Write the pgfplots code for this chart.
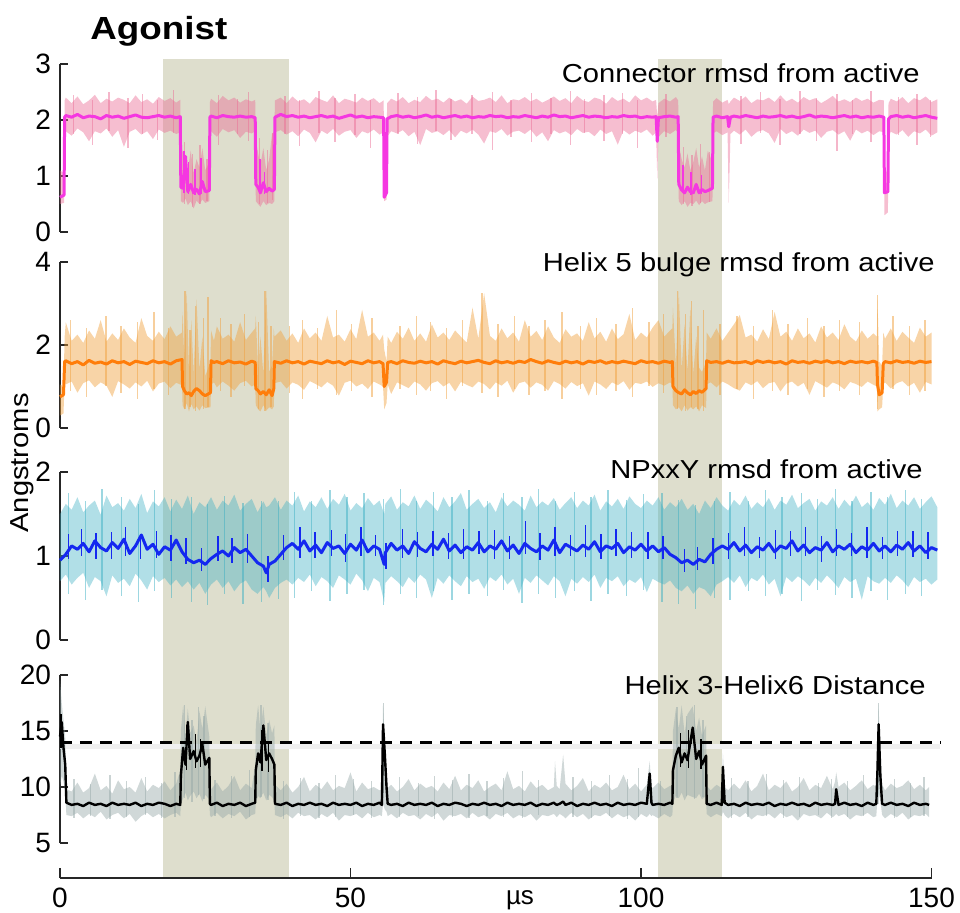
\documentclass[border=0pt]{standalone}
\usepackage{pgfplots}
\pgfplotsset{compat=1.18}
\usepackage{pgfplotstable}
\usepackage{fontspec}
\setmainfont{Liberation Sans}
\newfontfamily\lblfont[FakeStretch=1.12]{Liberation Sans}
\newfontfamily\ttlfont[FakeStretch=1.15]{Liberation Sans}

\definecolor{shade}{RGB}{222,222,205}
\definecolor{pAdark}{RGB}{245,55,225}
\definecolor{pAlight}{RGB}{235,110,150}
\definecolor{pBdark}{RGB}{255,125,10}
\definecolor{pBlight}{RGB}{240,160,60}
\definecolor{pCdark}{RGB}{20,40,240}
\definecolor{pClight}{RGB}{60,175,195}
\definecolor{pDdark}{RGB}{0,0,0}
\definecolor{pDlight}{RGB}{150,168,168}

\pgfplotstableread{
x lo hi y
0 0.50 1.10 0.62
0.7 0.52 1.05 0.66
0.8 1.75 2.35 2.05
1 1.80 2.40 2.08
2 1.72 2.30 2.05
3 1.85 2.42 2.10
4 1.78 2.28 2.04
5 1.62 2.35 2.07
6 1.80 2.45 2.06
7 1.76 2.30 2.02
8 1.85 2.38 2.08
9 1.70 2.33 2.05
10 1.82 2.40 2.07
11 1.52 2.36 2.03
12 1.79 2.30 2.06
13 1.84 2.44 2.09
14 1.74 2.32 2.05
15 1.80 2.37 2.04
16 1.66 2.29 2.06
17 1.83 2.41 2.08
18 1.77 2.34 2.05
19 1.81 2.39 2.07
20 1.75 2.31 2.04
20.7 1.78 2.36 2.06
20.8 0.55 1.55 0.80
21.2 0.52 1.40 0.78
21.6 0.60 1.30 1.35
22 0.48 1.10 0.72
22.5 0.55 1.45 0.85
23 0.42 1.05 0.70
23.5 0.56 1.30 0.76
24 0.50 1.15 0.68
24.5 0.58 1.50 0.90
25 0.52 1.10 0.72
25.7 0.55 1.25 0.74
25.8 1.75 2.32 2.05
26 1.80 2.38 2.07
27 1.70 2.30 2.04
28 1.84 2.43 2.08
29 1.78 2.35 2.06
30 1.82 2.40 2.05
31 1.68 2.31 2.07
32 1.79 2.37 2.05
33 1.76 2.33 2.06
33.6 1.80 2.36 2.04
33.7 0.55 1.65 0.85
34.1 0.50 1.40 0.80
34.5 0.45 1.20 0.70
35 0.55 1.50 0.88
35.5 0.48 1.10 0.72
36 0.52 1.30 0.78
36.5 0.50 1.75 0.73
36.9 0.55 1.80 0.76
37 1.78 2.35 2.05
38 1.82 2.40 2.10
39 1.74 2.30 2.06
40 1.80 2.42 2.08
41 1.71 2.33 2.05
42 1.83 2.37 2.07
43 1.77 2.29 2.04
44 1.60 2.41 2.06
45 1.81 2.36 2.08
46 1.75 2.32 2.05
47 1.84 2.44 2.07
48 1.72 2.30 2.03
49 1.79 2.38 2.06
50 1.82 2.35 2.09
51 1.68 2.31 2.05
52 1.80 2.40 2.07
53 1.76 2.34 2.04
54 1.83 2.39 2.06
55 1.74 2.30 2.05
55.7 1.78 2.35 2.04
55.8 0.55 1.50 0.62
56.2 0.58 1.40 0.70
56.3 1.70 2.30 2.02
57 1.80 2.38 2.06
58 1.76 2.33 2.08
59 1.82 2.41 2.05
60 1.71 2.30 2.07
61 1.79 2.36 2.04
62 1.55 2.32 2.06
63 1.84 2.43 2.09
64 1.77 2.35 2.05
65 1.80 2.38 2.07
66 1.73 2.31 2.04
67 1.82 2.40 2.06
68 1.69 2.33 2.08
69 1.81 2.37 2.05
70 1.76 2.29 2.07
71 1.83 2.42 2.04
72 1.74 2.34 2.06
73 1.58 2.36 2.05
74 1.80 2.40 2.08
75 1.77 2.32 2.06
76 1.84 2.44 2.07
77 1.72 2.30 2.04
78 1.79 2.37 2.06
79 1.81 2.35 2.05
80 1.75 2.41 2.08
81 1.83 2.33 2.06
82 1.70 2.38 2.04
83 1.78 2.31 2.07
84 1.62 2.36 2.05
85 1.82 2.42 2.09
86 1.76 2.34 2.06
87 1.80 2.39 2.07
88 1.73 2.30 2.04
89 1.84 2.43 2.06
90 1.77 2.35 2.08
91 1.79 2.32 2.05
92 1.71 2.40 2.07
93 1.83 2.37 2.06
94 1.75 2.29 2.04
95 1.80 2.41 2.06
96 1.56 2.34 2.05
97 1.82 2.38 2.08
98 1.74 2.31 2.06
99 1.81 2.44 2.07
100 1.77 2.35 2.04
101 1.83 2.40 2.06
102 1.72 2.33 2.05
102.6 1.78 2.36 2.06
102.8 0.95 2.05 1.62
103 1.70 2.30 2.04
104 1.80 2.38 2.06
105 1.75 2.33 2.07
106 1.82 2.41 2.05
106.4 1.77 2.35 2.06
106.5 0.55 1.55 0.85
107 0.48 1.30 0.75
107.5 0.55 1.15 0.70
108 0.45 1.40 0.80
108.5 0.52 1.10 0.72
109 0.50 1.25 0.70
109.5 0.56 1.50 0.85
110 0.48 1.15 0.70
110.5 0.55 1.35 0.76
111 0.50 1.10 0.72
111.5 0.53 1.45 0.74
112.3 0.55 1.25 0.78
112.4 1.76 2.33 2.05
113 1.80 2.39 2.07
114 1.73 2.31 2.04
114.9 1.78 2.36 2.06
115.1 0.52 2.28 1.88
115.4 1.75 2.33 2.05
116 1.81 2.40 2.07
117 1.74 2.34 2.05
118 1.83 2.42 2.08
119 1.70 2.30 2.06
120 1.79 2.37 2.04
121 1.82 2.35 2.07
122 1.76 2.40 2.05
123 1.59 2.32 2.06
124 1.84 2.44 2.08
125 1.75 2.33 2.05
126 1.80 2.38 2.07
127 1.72 2.31 2.04
128 1.83 2.41 2.06
129 1.77 2.35 2.09
130 1.81 2.39 2.05
131 1.68 2.30 2.07
132 1.79 2.36 2.06
133 1.82 2.43 2.04
134 1.74 2.33 2.06
135 1.80 2.37 2.08
136 1.63 2.32 2.05
137 1.83 2.40 2.07
138 1.76 2.34 2.04
139 1.81 2.38 2.06
140 1.73 2.31 2.05
141 1.80 2.36 2.07
141.8 1.78 2.35 2.05
141.9 0.30 1.20 0.70
142.5 0.35 1.00 0.72
142.6 1.70 2.30 2.02
143 1.79 2.38 2.06
144 1.74 2.33 2.08
145 1.82 2.41 2.05
146 1.70 2.30 2.07
147 1.80 2.39 2.04
148 1.76 2.35 2.06
149 1.83 2.42 2.08
150 1.72 2.32 2.05
151 1.78 2.37 2.03
}\pA

\pgfplotstableread{
x y ep em
2.3 2.05 0.40 0.30
5.6 2.05 0.30 0.50
8.4 2.05 0.45 0.25
11.7 2.05 0.35 0.55
14.2 2.05 0.42 0.30
16.8 2.05 0.30 0.40
19.5 2.05 0.48 0.28
27.3 2.05 0.40 0.50
30.6 2.05 0.33 0.30
32.4 2.05 0.45 0.42
38.7 2.05 0.38 0.30
41.2 2.05 0.30 0.52
44.6 2.05 0.46 0.28
47.3 2.05 0.35 0.45
50.8 2.05 0.42 0.32
53.4 2.05 0.30 0.55
58.2 2.05 0.44 0.30
61.5 2.05 0.36 0.48
64.7 2.05 0.48 0.25
67.3 2.05 0.32 0.40
70.9 2.05 0.40 0.30
74.4 2.05 0.45 0.58
77.6 2.05 0.30 0.35
81.2 2.05 0.43 0.45
84.5 2.05 0.35 0.30
87.9 2.05 0.47 0.50
90.3 2.05 0.32 0.28
93.6 2.05 0.40 0.42
96.8 2.05 0.44 0.30
99.4 2.05 0.30 0.55
104.3 2.05 0.42 0.35
117.2 2.05 0.38 0.48
120.6 2.05 0.45 0.28
123.9 2.05 0.32 0.50
127.4 2.05 0.47 0.30
130.2 2.05 0.35 0.42
133.7 2.05 0.42 0.60
136.4 2.05 0.30 0.30
139.6 2.05 0.46 0.45
144.3 2.05 0.36 0.32
147.5 2.05 0.42 0.50
149.8 2.05 0.30 0.35
21.4 0.70 0.90 0.20
22.8 0.70 0.70 0.25
24.1 0.70 0.85 0.20
25.3 0.70 0.60 0.15
34.3 0.72 0.95 0.22
35.7 0.72 0.75 0.20
36.6 0.72 1.05 0.15
107.3 0.72 0.80 0.22
108.8 0.72 0.65 0.25
110.2 0.72 0.85 0.20
111.8 0.72 0.70 0.18
}\nA

\pgfplotstableread{
x y ep em
21.3 0.75 0.70 0.05
22.1 0.75 0.50 0.08
23.2 0.72 0.40 0.06
24.3 0.72 0.60 0.05
34.4 0.75 0.55 0.08
35.2 0.72 0.35 0.05
107.2 0.75 0.45 0.05
108.6 0.72 0.35 0.06
110.4 0.72 0.30 0.05
}\dA

\pgfplotstableread{
x lo hi y
0 0.30 1.05 0.75
0.6 0.35 1.00 0.80
0.8 1.10 2.20 1.60
1 1.05 2.55 1.62
2 1.12 2.10 1.55
3 0.85 2.25 1.60
4 1.08 2.05 1.52
5 1.15 2.35 1.63
6 0.98 2.15 1.56
7 1.10 2.60 1.59
8 1.02 2.08 1.54
9 0.75 2.28 1.62
10 1.13 2.12 1.57
11 1.05 2.40 1.60
12 0.95 2.18 1.53
13 1.10 2.05 1.61
14 1.00 2.65 1.58
15 1.14 2.22 1.55
16 0.88 2.10 1.62
17 1.07 2.32 1.57
18 1.12 2.14 1.60
19 0.96 2.45 1.54
20 1.09 2.20 1.62
21.0 1.03 2.30 1.65
21.1 0.55 2.80 1.00
21.4 0.45 1.60 0.90
21.8 0.60 3.30 0.82
22.2 0.40 1.35 0.85
22.6 0.58 2.60 0.78
23 0.45 1.30 0.88
23.5 0.52 3.10 0.95
24 0.42 1.40 0.90
24.5 0.55 2.20 0.82
25 0.48 1.25 0.78
25.9 0.50 1.60 0.85
26.0 1.05 2.35 1.62
26.5 1.10 2.10 1.58
27 0.98 2.45 1.60
28 1.12 2.15 1.55
29 1.02 2.25 1.62
30 0.90 2.08 1.57
31 1.08 2.55 1.59
32 1.14 2.12 1.54
33 1.00 2.30 1.61
33.6 1.05 2.40 1.58
33.7 0.55 2.70 0.95
34.1 0.45 1.40 0.90
34.5 0.40 2.20 0.82
35 0.55 1.30 0.88
35.5 0.42 3.30 0.80
36 0.50 1.35 0.92
36.5 0.45 1.50 0.78
36.8 0.52 2.40 0.95
36.9 1.08 2.20 1.60
38 1.12 2.35 1.56
39 0.95 2.10 1.62
40 1.10 2.28 1.57
41 1.04 2.05 1.60
42 0.92 2.40 1.54
43 1.13 2.16 1.61
44 1.06 2.30 1.58
45 0.98 2.10 1.55
46 1.11 2.70 1.62
47 1.02 2.18 1.57
48 0.78 2.25 1.60
49 1.09 2.08 1.53
50 1.14 2.38 1.61
51 1.00 2.14 1.58
52 1.07 2.85 1.55
53 0.94 2.20 1.62
54 1.12 2.30 1.57
55 1.05 2.10 1.60
55.6 1.00 2.25 1.55
55.8 0.45 1.90 1.00
56.2 0.60 1.60 1.10
56.4 1.05 2.20 1.58
57 0.82 2.05 1.60
58 1.10 2.32 1.55
59 1.03 2.15 1.62
60 0.96 2.42 1.58
61 1.12 2.10 1.56
62 1.05 2.28 1.61
63 0.90 2.08 1.57
64 1.08 2.50 1.60
65 1.13 2.18 1.54
66 1.00 2.30 1.62
67 1.09 2.12 1.58
68 0.88 2.35 1.55
69 1.11 2.20 1.61
70 1.04 2.06 1.57
71 0.98 2.90 1.60
72 1.12 2.15 1.63
73 1.06 3.25 1.58
74 0.93 2.22 1.55
75 1.10 2.10 1.62
76 1.02 2.40 1.57
77 1.14 2.16 1.60
78 0.85 2.30 1.56
79 1.08 2.08 1.61
80 1.12 2.60 1.58
81 0.97 2.20 1.65
82 1.10 2.34 1.60
83 1.04 2.12 1.56
84 0.90 2.45 1.62
85 1.13 2.18 1.58
86 1.06 2.05 1.55
87 0.95 2.38 1.61
88 1.11 2.20 1.57
89 1.01 2.28 1.60
90 1.08 2.10 1.54
91 0.78 2.55 1.61
92 1.12 2.16 1.58
93 1.05 2.32 1.62
94 0.94 2.08 1.56
95 1.10 2.40 1.60
96 1.03 2.14 1.57
97 1.13 2.26 1.61
98 0.92 2.75 1.58
99 1.09 2.12 1.55
100 1.06 2.30 1.62
101 1.12 2.18 1.58
102 0.99 2.42 1.60
103 1.08 2.60 1.56
104 1.02 2.20 1.61
105 1.10 2.35 1.58
105.4 1.05 2.40 1.60
105.5 0.55 2.90 1.00
106 0.45 1.50 0.90
106.5 0.50 3.30 0.85
107 0.40 1.40 0.82
107.5 0.55 2.50 0.92
108 0.42 1.35 0.85
108.5 0.50 2.90 0.80
109 0.45 1.30 0.88
109.5 0.52 2.20 0.83
110 0.40 1.45 0.90
110.5 0.55 1.35 0.86
111.2 0.48 1.60 0.95
111.3 1.05 2.30 1.62
112 1.10 2.15 1.58
113 0.98 2.40 1.60
114 1.12 2.10 1.56
115 1.05 2.30 1.61
116 0.96 2.50 1.57
117 0.90 2.72 1.58
118 1.10 2.18 1.60
119 1.03 2.25 1.55
120 1.13 2.08 1.62
121 0.96 2.38 1.58
122 1.08 2.14 1.61
123 1.11 2.80 1.57
124 0.88 2.20 1.60
125 1.07 2.32 1.54
126 1.12 2.10 1.62
127 1.00 2.40 1.58
128 1.09 2.16 1.60
129 0.80 2.28 1.56
130 1.13 2.06 1.61
131 1.05 2.45 1.58
132 0.97 2.18 1.62
133 1.10 2.30 1.57
134 1.04 2.12 1.60
135 0.93 2.50 1.55
136 1.11 2.20 1.61
137 1.06 2.08 1.58
138 0.99 2.35 1.60
139 1.12 2.15 1.57
140 1.04 2.28 1.61
140.6 1.00 2.20 1.58
140.7 0.40 3.10 1.05
141 0.45 1.60 0.80
141.5 0.50 1.50 0.85
141.7 1.05 2.30 1.55
142 1.10 2.15 1.60
143 0.95 2.40 1.57
144 1.08 2.10 1.62
145 1.13 2.32 1.58
146 1.00 2.18 1.60
147 1.09 2.05 1.56
148 0.85 2.42 1.61
149 1.11 2.20 1.58
150 1.05 2.30 1.60
}\pB

\pgfplotstableread{
x y ep em
1.8 1.60 1.00 0.70
4.6 1.60 0.80 0.85
7.9 1.60 1.10 0.60
10.5 1.60 0.85 0.75
13.3 1.60 0.95 0.90
16.2 1.60 1.20 0.65
18.7 1.60 0.80 0.80
27.6 1.60 1.05 0.70
29.4 1.60 0.90 0.85
31.8 1.60 1.15 0.60
39.5 1.60 0.85 0.75
41.7 1.60 1.00 0.90
44.3 1.60 0.80 0.65
47.6 1.60 1.25 0.80
50.2 1.60 0.90 0.70
53.7 1.60 1.05 0.85
58.5 1.60 0.85 0.65
61.4 1.60 1.10 0.80
63.8 1.60 0.95 0.70
66.5 1.60 0.80 0.90
69.3 1.60 1.00 0.60
72.6 1.60 1.65 0.75
75.4 1.60 0.90 0.85
78.2 1.60 1.10 0.65
80.7 1.60 0.85 0.80
83.5 1.60 1.00 0.70
86.4 1.60 1.20 0.90
89.6 1.60 0.85 0.65
92.3 1.60 1.05 0.80
95.7 1.60 0.90 0.70
98.5 1.60 1.30 0.85
101.4 1.60 0.95 0.60
103.9 1.60 1.15 0.75
113.6 1.60 0.90 0.80
116.5 1.60 1.10 0.65
119.4 1.60 0.85 0.90
122.6 1.60 1.25 0.70
125.3 1.60 0.90 0.80
128.7 1.60 1.05 0.65
131.5 1.60 0.85 0.85
134.2 1.60 1.00 0.70
137.6 1.60 0.95 0.80
140.75 0.90 2.30 0.45
143.4 1.60 1.10 0.65
146.2 1.60 0.85 0.80
148.9 1.60 1.00 0.70
21.5 0.85 2.45 0.40
22.4 0.85 1.50 0.35
23.3 0.85 2.10 0.45
24.7 0.85 1.80 0.40
25.5 0.85 2.30 0.35
34.2 0.85 1.70 0.40
35.3 0.85 2.45 0.45
36.3 0.85 1.60 0.35
106.3 0.85 2.45 0.40
107.7 0.85 1.90 0.45
108.7 0.85 2.20 0.35
109.8 0.85 1.60 0.40
110.8 0.85 2.00 0.45
}\nB

\pgfplotstableread{
x lo hi y
0 0.70 1.50 0.95
1 0.78 1.62 1.02
2 0.66 1.55 1.12
3 0.74 1.70 1.08
4 0.80 1.52 1.15
5 0.62 1.60 1.05
6 0.75 1.66 1.18
7 0.70 1.49 1.10
8 0.52 1.72 1.06
9 0.77 1.58 1.16
10 0.68 1.63 1.09
11 0.73 1.54 1.20
12 0.64 1.68 1.03
13 0.79 1.57 1.12
14 0.71 1.74 1.25
15 0.60 1.51 1.08
16 0.76 1.65 1.14
17 0.69 1.59 1.02
18 0.74 1.70 1.11
19 0.65 1.53 1.07
20 0.72 1.67 1.19
21 0.63 1.56 1.05
22 0.70 1.72 0.96
23 0.60 1.50 0.92
24 0.68 1.64 0.95
25 0.55 1.58 0.90
26 0.66 1.70 0.97
27 0.72 1.55 1.02
28 0.62 1.66 1.06
29 0.70 1.60 1.00
30 0.58 1.73 1.10
31 0.67 1.54 1.04
32 0.71 1.62 1.08
33 0.60 1.68 1.00
34 0.55 1.52 0.92
35 0.63 1.65 0.88
35.5 0.58 1.58 0.80
36 0.50 1.60 0.90
37 0.62 1.70 0.94
38 0.68 1.55 1.02
39 0.72 1.66 1.10
40 0.66 1.60 1.15
41 0.74 1.72 1.08
42 0.69 1.53 1.18
43 0.78 1.65 1.06
44 0.64 1.58 1.13
45 0.75 1.70 1.04
46 0.70 1.56 1.16
47 0.62 1.68 1.09
48 0.77 1.61 1.12
49 0.72 1.74 1.03
50 0.66 1.54 1.14
51 0.79 1.63 1.07
52 0.71 1.57 1.19
53 0.58 1.69 1.05
54 0.74 1.60 1.12
55 0.69 1.66 1.08
55.8 0.45 1.50 0.90
56 0.68 1.62 1.04
57 0.76 1.71 1.15
58 0.70 1.55 1.07
59 0.63 1.64 1.12
60 0.75 1.59 1.03
61 0.68 1.72 1.17
62 0.78 1.56 1.09
63 0.72 1.67 1.05
64 0.50 1.61 1.14
65 0.74 1.53 1.08
66 0.67 1.70 1.20
67 0.77 1.58 1.06
68 0.70 1.65 1.13
69 0.64 1.75 1.04
70 0.76 1.55 1.11
71 0.69 1.62 1.07
72 0.73 1.68 1.16
73 0.61 1.57 1.05
74 0.75 1.64 1.12
75 0.70 1.52 1.08
76 0.78 1.70 1.18
77 0.66 1.59 1.06
78 0.73 1.66 1.13
79 0.55 1.61 1.03
80 0.74 1.54 1.15
81 0.68 1.72 1.09
82 0.77 1.58 1.05
83 0.71 1.65 1.12
84 0.65 1.60 1.07
85 0.76 1.69 1.19
86 0.70 1.55 1.04
87 0.52 1.63 1.14
88 0.73 1.70 1.10
89 0.67 1.57 1.06
90 0.75 1.66 1.13
91 0.69 1.60 1.08
92 0.78 1.73 1.17
93 0.62 1.54 1.05
94 0.74 1.65 1.12
95 0.70 1.59 1.09
96 0.76 1.68 1.15
97 0.64 1.56 1.04
98 0.72 1.71 1.11
99 0.68 1.62 1.07
100 0.75 1.57 1.14
101 0.57 1.66 1.06
102 0.73 1.60 1.12
103 0.69 1.70 1.05
104 0.66 1.55 1.10
105 0.71 1.64 1.02
106 0.62 1.58 0.98
107 0.58 1.68 0.92
108 0.65 1.55 0.95
109 0.55 1.62 0.90
110 0.63 1.50 0.96
111 0.60 1.66 0.93
112 0.52 1.57 1.02
113 0.66 1.70 1.08
114 0.70 1.60 1.12
115 0.75 1.54 1.08
116 0.68 1.67 1.16
117 0.77 1.60 1.06
118 0.63 1.72 1.13
119 0.74 1.56 1.04
120 0.70 1.64 1.11
121 0.78 1.58 1.07
122 0.66 1.69 1.15
123 0.73 1.55 1.05
124 0.52 1.66 1.12
125 0.75 1.61 1.09
126 0.69 1.73 1.18
127 0.76 1.57 1.06
128 0.71 1.63 1.13
129 0.64 1.68 1.04
130 0.74 1.54 1.10
131 0.68 1.65 1.07
132 0.77 1.60 1.16
133 0.70 1.70 1.05
134 0.62 1.56 1.12
135 0.75 1.67 1.08
136 0.69 1.59 1.14
137 0.73 1.72 1.04
138 0.48 1.58 1.11
139 0.76 1.64 1.07
140 0.70 1.55 1.15
141 0.67 1.69 1.06
142 0.74 1.61 1.12
143 0.68 1.74 1.05
144 0.77 1.57 1.13
145 0.71 1.66 1.08
146 0.63 1.60 1.16
147 0.75 1.70 1.06
148 0.69 1.56 1.12
149 0.73 1.64 1.04
150 0.66 1.71 1.10
151 0.72 1.58 1.07
}\pC

\pgfplotstableread{
x y ep em
1.5 1.10 0.65 0.55
4.4 1.10 0.55 0.62
7.2 1.10 0.70 0.50
10.6 1.10 0.60 0.58
13.5 1.10 0.52 0.65
16.3 1.10 0.68 0.52
19.2 1.10 0.58 0.60
22.6 1.00 0.70 0.55
25.4 1.00 0.62 0.58
28.3 1.05 0.66 0.50
31.5 1.05 0.58 0.62
34.7 0.95 0.70 0.50
37.6 1.05 0.60 0.56
40.4 1.10 0.66 0.60
43.3 1.10 0.55 0.52
46.5 1.10 0.68 0.64
49.4 1.10 0.60 0.55
52.3 1.10 0.65 0.50
55.7 1.10 0.58 0.68
58.6 1.10 0.70 0.55
61.4 1.10 0.55 0.60
64.3 1.10 0.66 0.52
67.5 1.10 0.60 0.62
70.4 1.10 0.68 0.55
73.6 1.10 0.56 0.58
76.3 1.10 0.65 0.50
79.5 1.10 0.60 0.66
82.4 1.10 0.70 0.55
85.3 1.10 0.55 0.60
88.6 1.10 0.66 0.52
91.4 1.10 0.60 0.64
94.3 1.10 0.68 0.55
97.5 1.10 0.57 0.58
100.4 1.10 0.64 0.50
103.6 1.05 0.70 0.60
106.5 0.95 0.72 0.52
109.4 0.95 0.66 0.58
112.6 1.05 0.60 0.55
115.3 1.10 0.66 0.62
118.5 1.10 0.56 0.52
121.4 1.10 0.68 0.58
124.3 1.10 0.60 0.55
127.6 1.10 0.65 0.64
130.4 1.10 0.58 0.50
133.5 1.10 0.70 0.56
136.3 1.10 0.56 0.60
139.6 1.10 0.66 0.52
142.4 1.10 0.60 0.62
145.5 1.10 0.68 0.55
148.3 1.10 0.58 0.58
}\nC

\pgfplotstableread{
x y ep em
1.4 1.08 0.18 0.12
3.7 1.10 0.22 0.10
6.2 1.12 0.15 0.16
8.8 1.08 0.20 0.12
11.3 1.10 0.24 0.10
13.9 1.12 0.14 0.15
16.6 1.10 0.20 0.12
19.1 1.08 0.17 0.14
21.7 1.00 0.22 0.10
24.4 0.94 0.15 0.12
27.2 1.04 0.20 0.10
29.6 1.05 0.16 0.13
32.3 1.04 0.22 0.12
35.8 0.85 0.15 0.16
38.4 1.05 0.20 0.10
41.3 1.10 0.25 0.12
43.9 1.12 0.16 0.14
46.7 1.10 0.21 0.10
49.2 1.08 0.18 0.15
51.8 1.12 0.23 0.12
54.3 1.10 0.15 0.10
56.1 1.04 0.12 0.20
58.9 1.10 0.22 0.12
61.6 1.12 0.17 0.13
64.2 1.10 0.20 0.10
66.8 1.12 0.15 0.15
69.5 1.08 0.24 0.12
72.1 1.12 0.18 0.10
74.8 1.10 0.21 0.14
77.3 1.08 0.16 0.12
80.1 1.12 0.30 0.10
82.6 1.10 0.17 0.15
85.2 1.12 0.22 0.12
87.8 1.10 0.15 0.10
90.4 1.12 0.25 0.13
93.1 1.08 0.18 0.12
95.7 1.10 0.22 0.10
98.3 1.12 0.16 0.14
101.2 1.08 0.20 0.12
103.8 1.06 0.18 0.10
107.5 0.93 0.15 0.12
109.7 0.93 0.18 0.10
112.4 1.02 0.20 0.12
115.1 1.10 0.17 0.14
117.8 1.12 0.22 0.12
120.4 1.08 0.15 0.10
123.1 1.10 0.21 0.13
125.7 1.12 0.18 0.12
128.3 1.10 0.24 0.10
131.0 1.08 0.16 0.15
133.6 1.12 0.20 0.12
136.2 1.10 0.17 0.10
138.9 1.12 0.22 0.14
141.5 1.08 0.15 0.12
144.2 1.10 0.20 0.10
146.8 1.12 0.18 0.13
149.4 1.08 0.21 0.12
}\dC

\pgfplotstableread{
x lo hi y
0 10.0 19.5 14.5
0.3 11.0 17.5 15.8
0.6 10.5 16.0 13.5
0.9 9.5 14.5 12.0
1.1 7.5 9.8 8.6
2 7.4 9.6 8.4
3 7.7 10.4 8.5
4 7.2 9.5 8.3
5 7.6 9.9 8.6
6 7.3 11.2 8.4
7 7.8 9.7 8.5
8 7.1 10.1 8.3
9 7.5 9.4 8.6
10 7.7 10.6 8.4
11 7.2 9.8 8.5
12 7.6 10.0 8.4
13 6.9 9.5 8.6
14 7.4 10.8 8.3
15 7.7 9.6 8.5
16 7.3 10.2 8.4
17 7.6 9.9 8.6
18 7.2 10.5 8.5
19 7.5 9.7 8.3
20 7.7 10.3 8.5
20.7 7.4 11.5 8.4
20.8 8.5 15.0 11.0
21.2 9.0 17.3 13.5
21.6 9.5 14.5 12.0
22 8.8 17.0 15.8
22.4 9.2 14.8 12.5
23 9.6 15.5 13.2
23.5 9.0 14.0 12.3
24 9.4 16.8 12.8
24.5 8.7 15.2 13.8
25 9.3 17.2 12.0
25.7 8.9 14.5 12.6
25.8 7.5 10.0 8.5
26 7.3 9.8 8.4
27 7.7 10.4 8.6
28 7.2 9.6 8.3
29 7.6 10.1 8.5
30 7.4 11.0 8.4
31 7.8 9.7 8.6
32 7.1 10.3 8.3
33 7.5 9.9 8.5
33.6 7.6 12.0 8.6
33.7 8.6 15.5 11.5
34.1 9.2 17.3 13.0
34.5 9.0 15.0 12.2
35 9.5 17.2 15.5
35.5 8.8 14.6 12.4
36 9.3 16.0 13.0
36.5 9.1 14.8 12.5
36.9 8.7 15.5 12.0
37 7.5 10.2 8.5
38 7.3 9.7 8.4
39 7.6 10.3 8.6
40 7.2 9.5 8.3
41 7.7 10.0 8.5
42 7.4 10.9 8.4
43 7.5 9.6 8.6
44 7.1 10.2 8.4
45 7.6 9.8 8.5
46 7.3 10.5 8.3
47 7.7 9.7 8.6
48 7.0 10.1 8.4
49 7.5 9.9 8.5
50 7.4 11.3 8.4
51 7.6 9.6 8.6
52 7.2 10.4 8.3
53 7.7 9.8 8.5
54 7.3 10.0 8.4
55 7.5 9.7 8.6
55.4 7.4 9.8 8.4
55.6 8.5 17.5 15.6
55.9 8.0 14.0 13.0
56.2 7.8 11.0 10.0
56.4 7.4 9.9 8.5
57 7.6 10.2 8.4
58 7.2 9.6 8.5
59 7.7 10.0 8.3
60 7.4 10.7 8.6
61 7.5 9.7 8.4
62 7.1 10.3 8.5
63 7.6 9.9 8.4
64 7.3 10.1 8.6
65 7.7 9.6 8.3
66 7.0 10.4 8.5
67 7.5 9.8 8.4
68 7.4 11.0 8.6
69 7.6 9.7 8.5
70 7.2 10.2 8.3
71 7.7 9.9 8.5
72 7.3 10.6 8.4
73 7.5 9.6 8.6
74 7.1 10.0 8.4
75 7.6 10.3 8.5
76 7.4 9.7 8.3
77 7.7 11.4 8.6
78 7.2 9.8 8.4
79 7.5 10.1 8.5
80 7.3 9.6 8.4
81 7.6 10.5 8.6
82 7.0 9.9 8.3
83 7.5 10.2 8.5
84 7.4 9.7 8.4
85 7.6 10.0 8.6
85.2 7.5 12.3 8.5
85.5 7.3 10.1 8.4
86 7.6 9.8 8.5
86.6 7.4 12.9 8.7
87 7.2 10.3 8.4
88 7.7 9.7 8.6
89 7.3 10.1 8.3
90 7.6 10.8 8.5
91 7.1 9.6 8.4
92 7.5 10.2 8.6
93 7.4 9.9 8.4
94 7.7 10.4 8.5
95 7.2 9.7 8.3
96 7.6 10.0 8.6
97 7.3 11.1 8.4
98 7.5 9.8 8.5
99 7.0 10.3 8.4
100 7.6 9.6 8.6
101 7.3 10.2 8.5
101.5 7.6 12.3 11.2
101.8 7.4 10.0 8.6
102 7.5 9.9 8.4
103 7.2 10.4 8.5
104 7.6 9.8 8.4
105 7.3 10.1 8.6
105.4 7.5 10.0 8.5
105.5 8.6 15.0 11.5
106 9.2 17.0 12.8
106.5 9.0 15.2 13.5
107 9.5 17.3 12.2
107.5 8.8 14.8 13.0
108 9.3 16.5 12.4
108.9 9.1 17.2 15.3
109.5 9.0 15.0 12.5
110 9.4 16.2 13.2
110.5 8.9 14.6 12.0
111.2 9.2 15.5 12.8
111.3 7.6 10.1 8.5
112 7.3 9.7 8.4
113 7.6 10.2 8.6
113.9 7.4 9.9 8.4
114.1 7.8 13.0 11.8
114.4 7.5 10.0 8.6
115 7.2 9.7 8.4
116 7.6 10.3 8.5
117 7.3 9.8 8.3
118 7.7 10.6 8.6
119 7.1 9.6 8.4
120 7.5 10.1 8.5
121 7.4 11.2 8.4
122 7.6 9.7 8.6
123 7.2 10.2 8.3
124 7.7 9.9 8.5
125 7.3 10.5 8.4
126 7.5 9.6 8.6
127 7.0 10.0 8.4
128 7.6 10.8 8.5
129 7.4 9.7 8.3
130 7.5 10.2 8.6
131 7.2 9.9 8.4
132 7.7 11.0 8.5
133 7.3 9.8 8.4
133.4 7.5 10.5 8.5
133.6 7.6 11.3 9.8
134 7.4 10.0 8.4
135 7.6 10.4 8.6
136 7.1 9.7 8.4
137 7.5 10.1 8.5
138 7.4 10.6 8.3
139 7.7 9.8 8.6
140 7.3 10.2 8.4
140.5 7.4 10.0 8.5
140.7 9.0 13.0 11.5
140.9 9.5 17.3 15.6
141.2 8.8 12.5 11.0
141.5 7.5 10.2 8.5
142 7.2 9.7 8.4
143 7.6 10.3 8.6
144 7.3 9.9 8.4
145 7.7 10.1 8.5
146 7.1 10.6 8.3
147 7.5 9.8 8.6
148 7.4 10.2 8.4
149 7.6 9.7 8.5
149.6 7.3 10.0 8.4
}\pD

\pgfplotstableread{
x y ep em
2.4 8.5 2.2 1.3
5.3 8.5 1.8 1.1
8.6 8.5 2.6 1.4
11.4 8.5 2.0 1.2
14.7 8.5 2.4 1.0
17.5 8.5 1.9 1.3
19.8 8.5 2.8 1.2
26.7 8.5 2.1 1.1
29.5 8.5 2.5 1.3
32.6 8.5 3.0 1.2
38.5 8.5 2.0 1.4
41.4 8.5 2.3 1.1
44.6 8.5 1.9 1.3
47.4 8.5 2.6 1.2
50.5 8.5 2.2 1.0
53.6 8.5 2.0 1.3
58.4 8.5 2.4 1.2
61.7 8.5 1.9 1.1
64.5 8.5 2.5 1.4
67.6 8.5 2.1 1.2
70.4 8.5 2.7 1.3
73.5 8.5 2.0 1.1
76.3 8.5 2.3 1.2
79.6 8.5 2.9 1.3
82.4 8.5 2.1 1.0
88.3 8.5 2.4 1.2
91.5 8.5 2.0 1.3
94.6 8.5 2.6 1.1
97.7 8.5 2.2 1.4
99.6 8.5 3.2 1.2
103.4 8.5 2.0 1.1
115.6 8.5 2.3 1.3
118.4 8.5 2.0 1.2
121.6 8.5 2.7 1.1
124.5 8.5 2.1 1.3
127.3 8.5 2.4 1.2
130.6 8.5 1.9 1.0
132.8 8.5 2.2 1.3
135.5 8.5 2.0 1.2
138.3 8.5 2.6 1.1
143.6 8.5 2.2 1.3
146.4 8.5 1.9 1.2
148.7 8.5 2.4 1.1
21.4 12.5 4.8 3.5
22.7 12.5 3.5 3.8
23.8 12.5 4.6 3.2
24.8 12.5 3.8 3.6
34.6 12.5 4.8 3.4
35.8 12.5 3.2 3.7
106.2 12.5 4.6 3.5
107.8 12.5 3.8 3.3
109.2 12.5 4.8 3.6
110.7 12.5 3.5 3.4
140.85 12.0 5.5 3.5
55.7 12.0 5.5 3.0
}\nD

\pgfplotstableread{
x y ep em
0.2 15.0 1.5 1.5
21.8 12.5 3.0 1.0
23.3 12.5 2.2 0.8
24.2 12.8 1.5 1.0
34.8 12.3 2.8 0.9
35.9 12.5 1.5 1.2
106.8 12.8 2.0 1.0
108.2 12.5 2.6 0.8
110.3 12.8 1.5 1.2
}\dD

% band outlines: upper edge forward, lower edge backward (same numbers, reordered)
\newcommand\makeband[3]{%
  \pgfplotstablesort[sort key=x, sort cmp=float >]{#3}{#1}%
  \pgfplotstablecreatecol[create col/copy=lo]{b}{#3}%
  \pgfplotstablesort[sort key=x, sort cmp=float <]{#2}{#1}%
  \pgfplotstablecreatecol[create col/copy=hi]{b}{#2}%
  \pgfplotstablevertcat{#2}{#3}%
}
\makeband{\pA}{\pAband}{\pArev}
\makeband{\pB}{\pBband}{\pBrev}
\makeband{\pC}{\pCband}{\pCrev}
\makeband{\pD}{\pDband}{\pDrev}

\pgfplotsset{
  panel/.style={
    scale only axis, width=435.75pt, xmin=0, xmax=150, clip=false,
    anchor=south west,
    axis y line*=left, axis x line=none,
    tick align=inside, major tick length=4pt,
    axis line style={black!85, line width=0.8pt},
    every tick/.style={black!85, line width=0.8pt},
    yticklabel style={font=\fontsize{14}{16}\selectfont, xshift=-1pt, /pgf/number format/assume math mode=true},
  },
  needles/.style={draw=none, mark=none, forget plot,
    error bars/.cd, y dir=both, y explicit, error mark=none,
    error bar style={#1}},
}

\begin{document}
\begin{tikzpicture}
\useasboundingbox (0,0) rectangle (480pt,456pt);

% background axis: shaded windows and time axis
\begin{axis}[scale only axis, width=435.75pt, height=409.5pt, at={(30pt,17pt)}, anchor=south west,
  xmin=0, xmax=150, ymin=0, ymax=1, clip=false, axis on top,
  axis x line*=bottom, axis y line=none,
  xtick={0,50,100,150}, tick align=inside, major tick length=5pt,
  axis line style={black!85, line width=0.8pt},
  every tick/.style={black!85, line width=0.8pt},
  xticklabel style={font=\fontsize{14}{16}\selectfont, anchor=north, inner sep=0pt, yshift=-5pt, /pgf/number format/assume math mode=true}]
\addplot[fill=shade, draw=none] coordinates {(17.8,0) (39.5,0) (39.5,1) (17.8,1)};
\addplot[fill=shade, draw=none] coordinates {(102.9,0) (114.0,0) (114.0,1) (102.9,1)};
\end{axis}

% panel 1
\begin{axis}[panel, at={(30pt,340pt)}, height=84pt, ymin=0, ymax=3, ytick={0,1,2,3}]
\addplot[fill=pAlight, fill opacity=0.45, draw=none] table[x=x,y=b]{\pAband};
\addplot[needles={draw=pAlight, draw opacity=0.5, line width=0.7pt}] table[x=x,y=y,y error plus=ep,y error minus=em]{\nA};
\addplot[pAdark, line width=1.5pt, line join=round] table[x=x,y=y]{\pA};
\addplot[needles={draw=pAdark, line width=0.8pt}] table[x=x,y=y,y error plus=ep,y error minus=em]{\dA};
\end{axis}

% panel 2
\begin{axis}[panel, at={(30pt,242pt)}, height=83pt, ymin=0, ymax=4, ytick={0,2,4}]
\addplot[fill=pBlight, fill opacity=0.45, draw=none] table[x=x,y=b]{\pBband};
\addplot[needles={draw=pBlight, draw opacity=0.5, line width=0.7pt}] table[x=x,y=y,y error plus=ep,y error minus=em]{\nB};
\addplot[pBdark, line width=1.5pt, line join=round] table[x=x,y=y]{\pB};
\end{axis}

% panel 3
\begin{axis}[panel, at={(30pt,136pt)}, height=84pt, ymin=0, ymax=2, ytick={0,1,2}]
\addplot[fill=pClight, fill opacity=0.4, draw=none] table[x=x,y=b]{\pCband};
\addplot[needles={draw=pClight, draw opacity=0.5, line width=0.7pt}] table[x=x,y=y,y error plus=ep,y error minus=em]{\nC};
\addplot[pCdark, line width=1.5pt, line join=round] table[x=x,y=y]{\pC};
\addplot[needles={draw=pCdark, line width=0.6pt}] table[x=x,y=y,y error plus=ep,y error minus=em]{\dC};
\end{axis}

% panel 4
\begin{axis}[panel, at={(30pt,34.5pt)}, height=84pt, ymin=5, ymax=20, ytick={5,10,15,20}]
\addplot[black!6, line width=2.5pt, forget plot] coordinates {(0,13.6) (151.5,13.6)};
\addplot[fill=pDlight, fill opacity=0.45, draw=none] table[x=x,y=b]{\pDband};
\addplot[needles={draw=pDlight, draw opacity=0.5, line width=0.7pt}] table[x=x,y=y,y error plus=ep,y error minus=em]{\nD};
\addplot[pDdark, line width=1.2pt, line join=round] table[x=x,y=y]{\pD};
\addplot[needles={draw=pDdark, line width=0.7pt}] table[x=x,y=y,y error plus=ep,y error minus=em]{\dD};
\addplot[black, line width=1.4pt, dash pattern=on 6pt off 4pt] coordinates {(0,14) (151.5,14)};
\end{axis}

\node[inner sep=0pt, anchor=base west, font=\ttlfont\bfseries\fontsize{16}{18}\selectfont] at (45pt,436pt) {Agonist};
\node[inner sep=0pt, anchor=base east, font=\lblfont\fontsize{13}{15}\selectfont] at (460pt,414.5pt) {Connector rmsd from active};
\node[inner sep=0pt, anchor=base east, font=\lblfont\fontsize{13}{15}\selectfont] at (467.5pt,320pt) {Helix 5 bulge rmsd from active};
\node[inner sep=0pt, anchor=base east, font=\lblfont\fontsize{13}{15}\selectfont] at (461.5pt,216.5pt) {NPxxY rmsd from active};
\node[inner sep=0pt, anchor=base east, font=\lblfont\fontsize{13}{15}\selectfont] at (463pt,109pt) {Helix 3-Helix6 Distance};
\node[rotate=90, font=\lblfont\fontsize{13}{15}\selectfont] at (11pt,224.5pt) {Angstroms};
\node[inner sep=0pt, anchor=base, font=\fontsize{13}{15}\selectfont] at (260pt,4pt) {µs};
\end{tikzpicture}
\end{document}
